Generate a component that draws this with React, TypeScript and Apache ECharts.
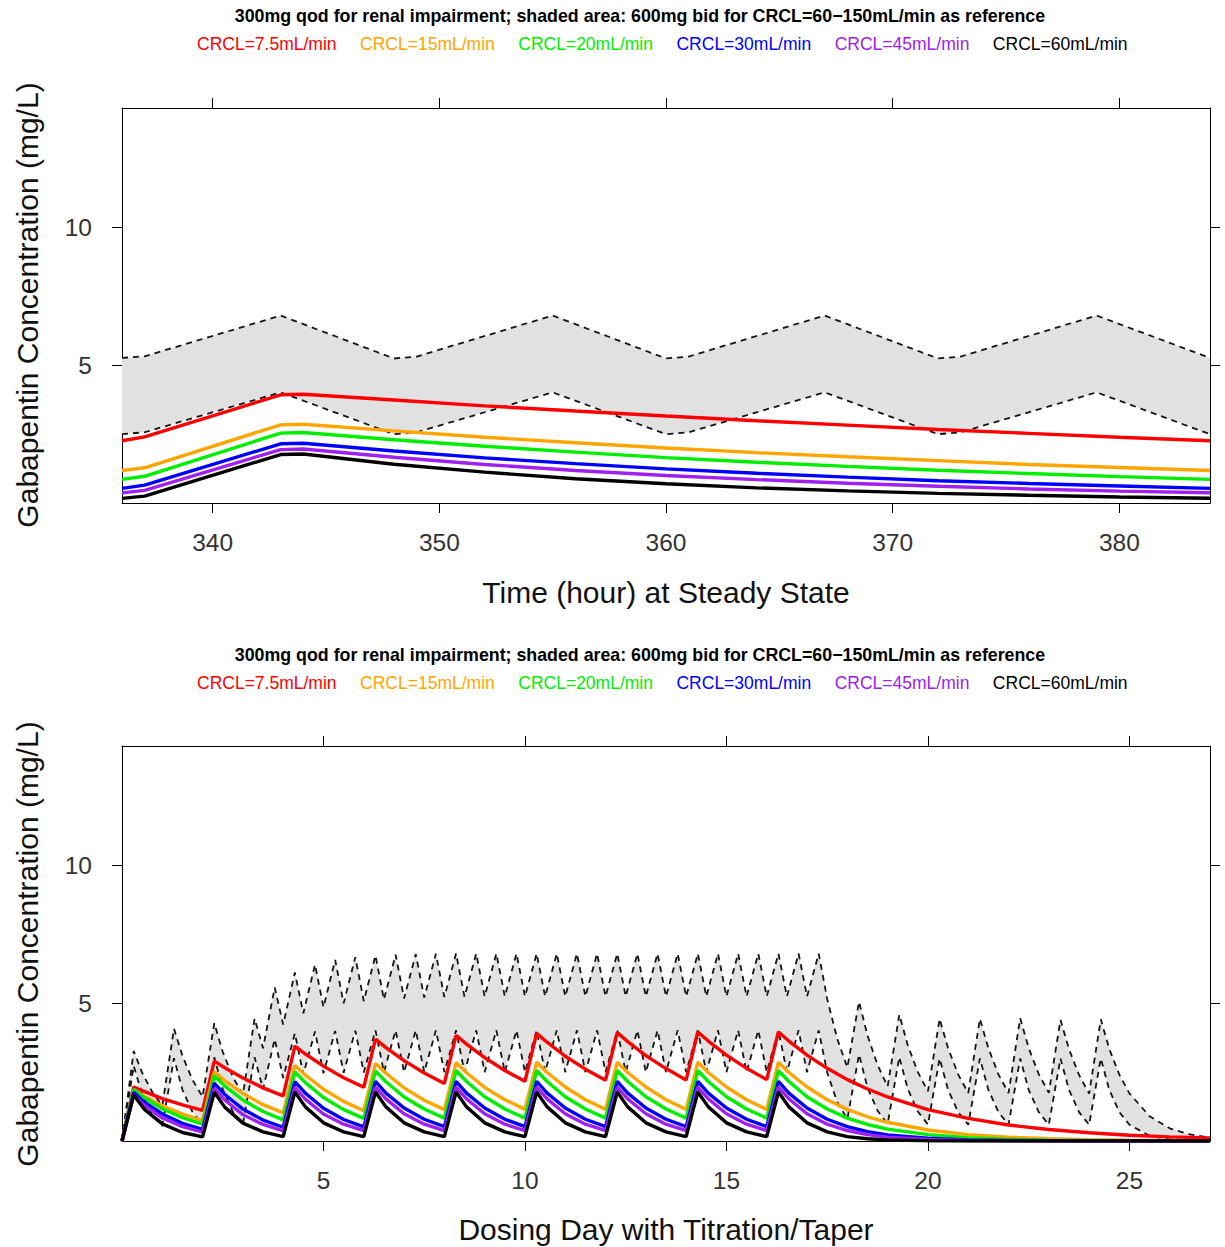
import React, { useEffect, useRef } from 'react';
import * as echarts from 'echarts';

// ---------- text ----------
const TITLE = '300mg qod for renal impairment; shaded area: 600mg bid for CRCL=60\u2212150mL/min as reference';
const LEGEND_NAMES = ['CRCL=7.5mL/min', 'CRCL=15mL/min', 'CRCL=20mL/min', 'CRCL=30mL/min', 'CRCL=45mL/min', 'CRCL=60mL/min'];
const Y_TITLE = 'Gabapentin Concentration (mg/L)';
const X_TITLE_TOP = 'Time (hour) at Steady State';
const X_TITLE_BOTTOM = 'Dosing Day with Titration/Taper';

// ---------- tick values ----------
const TOP_X_TICKS = [340, 350, 360, 370, 380];
const BOTTOM_X_TICKS = [5, 10, 15, 20, 25];
const Y_TICKS = [5, 10];

// ---------- top panel: steady state (hours) ----------
const topHours = [336, 337, 343, 344, 348, 352, 356, 360, 364, 368, 372, 376, 380, 384];
const topRed = [2.26, 2.40, 3.93, 3.95, 3.74, 3.53, 3.34, 3.16, 2.99, 2.83, 2.67, 2.53, 2.39, 2.26];
const topOrange = [1.18, 1.28, 2.84, 2.86, 2.62, 2.39, 2.19, 2.00, 1.83, 1.68, 1.54, 1.40, 1.29, 1.18];
const topGreen = [0.86, 0.97, 2.54, 2.56, 2.30, 2.06, 1.85, 1.65, 1.48, 1.33, 1.19, 1.07, 0.96, 0.86];
const topBlue = [0.53, 0.65, 2.15, 2.17, 1.89, 1.64, 1.43, 1.24, 1.08, 0.94, 0.81, 0.71, 0.62, 0.53];
const topPurple = [0.37, 0.46, 1.94, 1.96, 1.66, 1.40, 1.18, 1.00, 0.85, 0.72, 0.61, 0.51, 0.43, 0.37];
const topBlack = [0.17, 0.25, 1.76, 1.78, 1.41, 1.12, 0.88, 0.70, 0.55, 0.44, 0.35, 0.28, 0.22, 0.17];

const topBandHours = [336, 337, 343, 348, 349, 355, 360, 361, 367, 372, 373, 379, 384];
const topRef60 = [5.27, 5.33, 6.81, 5.25, 5.32, 6.81, 5.25, 5.32, 6.81, 5.25, 5.32, 6.81, 5.27];
const topRef150 = [2.50, 2.57, 4.02, 2.50, 2.57, 4.02, 2.50, 2.57, 4.02, 2.50, 2.57, 4.02, 2.50];

// ---------- bottom panel: titration / taper (days) ----------
const qodDays = [
  0, 0.29, 0.55, 1, 1.5,
  2, 2.29, 2.55, 3, 3.5,
  4, 4.29, 4.55, 5, 5.5,
  6, 6.29, 6.55, 7, 7.5,
  8, 8.29, 8.55, 9, 9.5,
  10, 10.29, 10.55, 11, 11.5,
  12, 12.29, 12.55, 13, 13.5,
  14, 14.29, 14.55, 15, 15.5,
  16, 16.29, 16.55, 17, 17.5,
  18, 18.5, 19, 20, 21, 22, 23, 24, 25, 26, 27,
];
const dayRed = [
  0, 1.96, 1.80, 1.54, 1.31,
  1.11, 2.90, 2.66, 2.29, 1.93,
  1.64, 3.45, 3.16, 2.72, 2.30,
  1.95, 3.70, 3.39, 2.92, 2.47,
  2.09, 3.84, 3.52, 3.03, 2.56,
  2.17, 3.91, 3.59, 3.08, 2.61,
  2.21, 3.94, 3.61, 3.10, 2.63,
  2.22, 3.96, 3.63, 3.12, 2.64,
  2.23, 3.96, 3.63, 3.12, 2.64,
  2.23, 1.89, 1.60, 1.14, 0.82, 0.58, 0.42, 0.30, 0.21, 0.15, 0.11,
];
const dayOrange = [
  0, 1.87, 1.63, 1.28, 0.98,
  0.75, 2.52, 2.19, 1.73, 1.32,
  1.02, 2.74, 2.39, 1.88, 1.44,
  1.10, 2.82, 2.46, 1.93, 1.48,
  1.14, 2.85, 2.48, 1.95, 1.50,
  1.15, 2.86, 2.49, 1.96, 1.50,
  1.15, 2.86, 2.49, 1.96, 1.50,
  1.15, 2.86, 2.49, 1.96, 1.50,
  1.15, 2.86, 2.49, 1.96, 1.50,
  1.15, 0.88, 0.68, 0.40, 0.23, 0.14, 0.08, 0.05, 0.03, 0.02, 0.01,
];
const dayGreen = [
  0, 1.87, 1.58, 1.17, 0.85,
  0.61, 2.37, 2.00, 1.49, 1.07,
  0.77, 2.51, 2.12, 1.58, 1.14,
  0.82, 2.55, 2.15, 1.60, 1.16,
  0.83, 2.56, 2.16, 1.61, 1.16,
  0.83, 2.56, 2.16, 1.61, 1.16,
  0.83, 2.56, 2.16, 1.61, 1.16,
  0.83, 2.56, 2.16, 1.61, 1.16,
  0.83, 2.56, 2.16, 1.61, 1.16,
  0.83, 0.60, 0.43, 0.23, 0.12, 0.06, 0.03, 0.02, 0.01, 0.00, 0.00,
];
const dayBlue = [
  0, 1.77, 1.42, 0.98, 0.64,
  0.42, 2.10, 1.69, 1.16, 0.76,
  0.50, 2.16, 1.74, 1.19, 0.78,
  0.51, 2.17, 1.74, 1.20, 0.79,
  0.52, 2.17, 1.74, 1.20, 0.79,
  0.52, 2.17, 1.74, 1.20, 0.79,
  0.52, 2.17, 1.74, 1.20, 0.79,
  0.52, 2.17, 1.74, 1.20, 0.79,
  0.52, 2.17, 1.74, 1.20, 0.79,
  0.52, 0.34, 0.22, 0.10, 0.04, 0.02, 0.01, 0.00, 0.00, 0.00, 0.00,
];
const dayPurple = [
  0, 1.67, 1.30, 0.84, 0.52,
  0.32, 1.91, 1.49, 0.96, 0.60,
  0.37, 1.95, 1.52, 0.98, 0.61,
  0.38, 1.96, 1.53, 0.99, 0.61,
  0.38, 1.96, 1.53, 0.99, 0.61,
  0.38, 1.96, 1.53, 0.99, 0.61,
  0.38, 1.96, 1.53, 0.99, 0.61,
  0.38, 1.96, 1.53, 0.99, 0.61,
  0.38, 1.96, 1.53, 0.99, 0.61,
  0.38, 0.23, 0.14, 0.06, 0.02, 0.01, 0.00, 0.00, 0.00, 0.00, 0.00,
];
const dayBlack = [
  0, 1.67, 1.16, 0.62, 0.31,
  0.15, 1.77, 1.23, 0.65, 0.33,
  0.16, 1.78, 1.24, 0.66, 0.33,
  0.16, 1.78, 1.24, 0.66, 0.33,
  0.16, 1.78, 1.24, 0.66, 0.33,
  0.16, 1.78, 1.24, 0.66, 0.33,
  0.16, 1.78, 1.24, 0.66, 0.33,
  0.16, 1.78, 1.24, 0.66, 0.33,
  0.16, 1.78, 1.24, 0.66, 0.33,
  0.16, 0.08, 0.04, 0.01, 0.00, 0.00, 0.00, 0.00, 0.00, 0.00, 0.00,
];

const bandDays = [
  0, 0.29, 0.5, 0.75, 1, 1.29, 1.5, 1.75, 2, 2.29, 2.5, 2.75, 3, 3.29,
  3.5, 3.79, 4, 4.29, 4.5, 4.79, 5, 5.29, 5.5, 5.79, 6, 6.29, 6.5, 6.79, 7, 7.29, 7.5, 7.79,
  8, 8.29, 8.5, 8.79, 9, 9.29, 9.5, 9.79, 10, 10.29, 10.5, 10.79, 11, 11.29, 11.5, 11.79,
  12, 12.29, 12.5, 12.79, 13, 13.29, 13.5, 13.79, 14, 14.29, 14.5, 14.79, 15, 15.29, 15.5, 15.79,
  16, 16.29, 16.5, 16.79, 17, 17.29,
  17.5, 17.75, 18, 18.29, 18.5, 18.75, 19, 19.29, 19.5, 19.75, 20, 20.29, 20.5, 20.75,
  21, 21.29, 21.5, 21.75, 22, 22.29, 22.5, 22.75, 23, 23.29, 23.5, 23.75, 24, 24.29, 24.5, 24.75,
  25, 25.5, 26, 26.5, 27,
];
const bandRef60 = [
  0, 3.27, 2.48, 1.78, 1.28, 4.08, 3.09, 2.22, 1.60, 4.28, 3.24, 2.33, 1.68, 4.45,
  3.37, 5.58, 4.23, 6.12, 4.64, 6.41, 4.86, 6.58, 5.00, 6.68, 5.08, 6.74, 5.14, 6.77, 5.18, 6.79, 5.21, 6.80,
  5.23, 6.81, 5.24, 6.81, 5.25, 6.81, 5.25, 6.81, 5.25, 6.81, 5.25, 6.81, 5.25, 6.81, 5.25, 6.81,
  5.25, 6.81, 5.25, 6.81, 5.25, 6.81, 5.25, 6.81, 5.25, 6.81, 5.25, 6.81, 5.25, 6.81, 5.25, 6.81,
  5.25, 6.81, 5.25, 6.81, 5.25, 6.81,
  5.16, 3.71, 2.67, 5.06, 3.84, 2.76, 1.98, 4.59, 3.48, 2.50, 1.80, 4.44, 3.37, 2.42,
  1.74, 4.44, 3.37, 2.42, 1.74, 4.46, 3.38, 2.43, 1.75, 4.40, 3.34, 2.40, 1.72, 4.42, 3.35, 2.41,
  1.73, 0.90, 0.46, 0.24, 0.12,
];
const bandRef150 = [
  0, 2.73, 1.69, 0.96, 0.54, 3.01, 1.86, 1.05, 0.60, 3.04, 1.88, 1.06, 0.60, 3.04,
  1.88, 3.70, 2.29, 3.91, 2.42, 3.98, 2.46, 4.00, 2.48, 4.01, 2.49, 4.02, 2.50, 4.02, 2.50, 4.02, 2.50, 4.02,
  2.50, 4.02, 2.50, 4.02, 2.50, 4.02, 2.50, 4.02, 2.50, 4.02, 2.50, 4.02, 2.50, 4.02, 2.50, 4.02,
  2.50, 4.02, 2.50, 4.02, 2.50, 4.02, 2.50, 4.02, 2.50, 4.02, 2.50, 4.02, 2.50, 4.02, 2.50, 4.02,
  2.50, 4.02, 2.50, 4.02, 2.50, 4.02,
  2.49, 1.41, 0.80, 3.14, 1.94, 1.10, 0.62, 3.05, 1.89, 1.07, 0.60, 3.00, 1.86, 1.05,
  0.59, 3.00, 1.86, 1.05, 0.59, 3.00, 1.86, 1.05, 0.59, 3.00, 1.86, 1.05, 0.59, 3.00, 1.86, 1.05,
  0.59, 0.19, 0.06, 0.02, 0.01,
];

// ---------- styles ----------
const LINE_COLORS = ['#ff0000', '#ffa500', '#00ee00', '#0000ff', '#a020f0', '#000000'];
const FONT = '"Liberation Sans", Arial, Helvetica, sans-serif';
const BAND_FILL = '#e1e1e1';

const pairs = (xs: number[], ys: number[]) => xs.map((x, i) => [x, ys[i]]);

function panelSeries(xi: number, yi: number, bandX: number[], up: number[], lo: number[], lineX: number[], lines: number[][]) {
  const s: any[] = [];
  s.push({
    type: 'custom',
    name: 'reference band',
    xAxisIndex: xi,
    yAxisIndex: yi,
    silent: true,
    z: 1,
    clip: true,
    data: [[bandX[0], lo[0]]],
    renderItem: (_params: any, api: any) => {
      const pts: number[][] = [];
      for (let i = 0; i < bandX.length; i++) pts.push(api.coord([bandX[i], up[i]]));
      for (let i = bandX.length - 1; i >= 0; i--) pts.push(api.coord([bandX[i], lo[i]]));
      return { type: 'polygon', shape: { points: pts }, style: { fill: BAND_FILL, stroke: null } };
    },
  });
  [up, lo].forEach((arr, k) => {
    s.push({
      type: 'line',
      name: k === 0 ? '600mg bid CRCL=60mL/min' : '600mg bid CRCL=150mL/min',
      xAxisIndex: xi,
      yAxisIndex: yi,
      data: pairs(bandX, arr),
      symbol: 'none',
      showSymbol: false,
      silent: true,
      z: 2,
      lineStyle: { color: '#141414', width: 1.8, type: [6, 5] },
    });
  });
  lines.forEach((arr, k) => {
    s.push({
      type: 'line',
      name: LEGEND_NAMES[k],
      xAxisIndex: xi,
      yAxisIndex: yi,
      data: pairs(lineX, arr),
      symbol: 'none',
      showSymbol: false,
      silent: true,
      z: 3,
      itemStyle: { color: LINE_COLORS[k] },
      lineStyle: { color: LINE_COLORS[k], width: 3.4 },
    });
  });
  return s;
}

function xAxisPair(gridIndex: number, min: number, max: number, ticks: number[]) {
  const base = {
    gridIndex,
    type: 'value',
    min,
    max,
    splitLine: { show: false },
    axisLine: { show: true, onZero: false, lineStyle: { color: '#000', width: 1 } },
    axisTick: { show: true, inside: false, length: 10, lineStyle: { color: '#000', width: 1 }, customValues: ticks },
  };
  return [
    { ...base, position: 'bottom', axisLabel: { show: true, customValues: ticks, fontSize: 24.5, color: '#333', margin: 27, fontFamily: FONT } },
    { ...base, position: 'top', axisLabel: { show: false } },
  ];
}

function yAxisPair(gridIndex: number) {
  const base = {
    gridIndex,
    type: 'value',
    min: 0,
    max: 14.35,
    splitLine: { show: false },
    axisLine: { show: true, onZero: false, lineStyle: { color: '#000', width: 1 } },
    axisTick: { show: true, inside: false, length: 10, lineStyle: { color: '#000', width: 1 }, customValues: Y_TICKS },
  };
  return [
    { ...base, position: 'left', axisLabel: { show: true, customValues: Y_TICKS, fontSize: 24.5, color: '#333', margin: 30, fontFamily: FONT } },
    { ...base, position: 'right', axisLabel: { show: false } },
  ];
}

function textEl(text: string, x: number, y: number, size: number, opts: any = {}) {
  return {
    type: 'text',
    x,
    y,
    rotation: opts.rotation || 0,
    silent: true,
    style: {
      text,
      fontSize: size,
      fontFamily: FONT,
      fontWeight: opts.bold ? 'bold' : 'normal',
      fill: opts.fill || '#111',
      align: 'center',
      verticalAlign: 'middle',
      textAlign: 'center',
      textVerticalAlign: 'middle',
    },
  };
}

function buildOption() {
  const legend = [35, 674].map((top) => ({
    left: 192,
    top,
    padding: 0,
    orient: 'horizontal',
    icon: 'none',
    itemWidth: 0,
    itemHeight: 18,
    itemGap: 18.5,
    selectedMode: false,
    textStyle: { fontSize: 17.5, fontFamily: FONT },
    data: LEGEND_NAMES.map((n, k) => ({ name: n, icon: 'none', textStyle: { color: LINE_COLORS[k] } })),
  }));

  return {
    animation: false,
    backgroundColor: '#ffffff',
    textStyle: { fontFamily: FONT },
    grid: [
      { left: 122, top: 108, width: 1088, height: 395, containLabel: false, outerBoundsMode: 'none' },
      { left: 122, top: 746, width: 1088, height: 395, containLabel: false, outerBoundsMode: 'none' },
    ],
    xAxis: [...xAxisPair(0, 336, 384, TOP_X_TICKS), ...xAxisPair(1, 0, 27, BOTTOM_X_TICKS)],
    yAxis: [...yAxisPair(0), ...yAxisPair(1)],
    legend,
    graphic: [
      textEl(TITLE, 640, 16, 17.8, { bold: true, fill: '#000' }),
      textEl(TITLE, 640, 655, 17.8, { bold: true, fill: '#000' }),
      textEl(X_TITLE_TOP, 666, 592, 30),
      textEl(X_TITLE_BOTTOM, 666, 1229, 30),
      textEl(Y_TITLE, 27, 305, 30, { rotation: Math.PI / 2 }),
      textEl(Y_TITLE, 27, 944, 30, { rotation: Math.PI / 2 }),
    ],
    series: [
      ...panelSeries(0, 0, topBandHours, topRef60, topRef150, topHours, [topRed, topOrange, topGreen, topBlue, topPurple, topBlack]),
      ...panelSeries(2, 2, bandDays, bandRef60, bandRef150, qodDays, [dayRed, dayOrange, dayGreen, dayBlue, dayPurple, dayBlack]),
    ],
  };
}

export default function App() {
  const ref = useRef<HTMLDivElement>(null);
  useEffect(() => {
    if (!ref.current) return;
    const chart = echarts.init(ref.current, null, { renderer: 'svg' });
    chart.setOption(buildOption() as any);
    return () => chart.dispose();
  }, []);
  return (
    <div
      ref={ref}
      style={{ position: 'absolute', left: 0, top: 0, width: 1225, height: 1247, background: '#fff' }}
    />
  );
}
